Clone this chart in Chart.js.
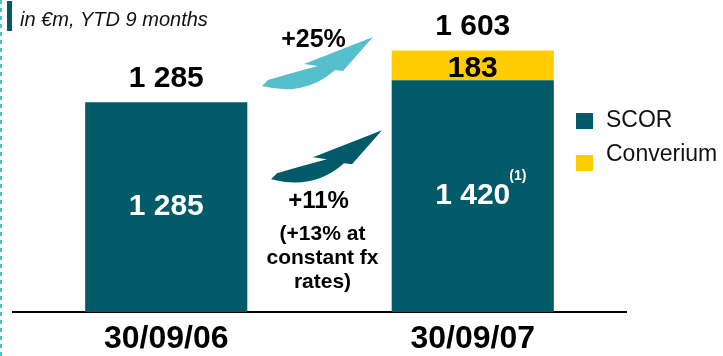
<!DOCTYPE html>
<html>
<head>
<meta charset="utf-8">
<script src="https://cdn.jsdelivr.net/npm/chart.js@4.4.1/dist/chart.umd.min.js"></script>
<style>
  html, body { margin: 0; padding: 0; background: #ffffff; }
  #wrap { width: 723px; height: 356px; position: relative; }
</style>
</head>
<body>
<div id="wrap"><canvas id="c" width="723" height="356"></canvas></div>
<script>
// ---- data ----
const categories = ['30/09/06', '30/09/07'];
const seriesNames = ['SCOR', 'Converium'];
const scorValues = [1285, 1420];
const converiumValues = [null, 183];
const subtitle = 'in €m, YTD 9 months';
const growthTotal = '+25%';
const growthScor = '+11%';
const growthNote = ['(+13% at', 'constant fx', 'rates)'];
const footnoteMark = '(1)';

const FONT = '"Liberation Sans", Arial, Helvetica, sans-serif';
const TEAL = '#005A67';
const YELLOW = '#FFCC00';
const LIGHT = '#55BFCD';

function fmt(n) {
  return String(n).replace(/\B(?=(\d{3})+(?!\d))/g, ' ');
}

// curved arrow outline, relative to its tip
const arrowShape = {
  tip: [0, 0],
  leftBarb: [-69, 27],
  topJoin: [-55, 29],
  topCtrl: [-78, 35],
  tailTop: [-105, 43],
  tailBottom: [-111, 49],
  bottomCtrl: [-68, 60],
  bottomJoin: [-38, 33],
  rightBarb: [-30, 34]
};

function drawArrow(ctx, tx, ty, color) {
  const p = (k) => [tx + arrowShape[k][0], ty + arrowShape[k][1]];
  ctx.save();
  ctx.fillStyle = color;
  ctx.beginPath();
  let a = p('tip'); ctx.moveTo(a[0], a[1]);
  a = p('leftBarb'); ctx.lineTo(a[0], a[1]);
  a = p('topJoin'); ctx.lineTo(a[0], a[1]);
  let c = p('topCtrl'), b = p('tailTop');
  ctx.quadraticCurveTo(c[0], c[1], b[0], b[1]);
  a = p('tailBottom'); ctx.lineTo(a[0], a[1]);
  c = p('bottomCtrl'); b = p('bottomJoin');
  ctx.quadraticCurveTo(c[0], c[1], b[0], b[1]);
  a = p('rightBarb'); ctx.lineTo(a[0], a[1]);
  ctx.closePath();
  ctx.fill();
  ctx.restore();
}

const decorPlugin = {
  id: 'decor',
  afterDraw(chart) {
    const ctx = chart.ctx;
    const xs = chart.scales.x;
    ctx.save();
    // left dashed rule
    ctx.strokeStyle = '#45C1D1';
    ctx.lineWidth = 2;
    ctx.setLineDash([4, 4]);
    ctx.beginPath(); ctx.moveTo(1, 0); ctx.lineTo(1, chart.height); ctx.stroke();
    ctx.setLineDash([]);
    // subtitle marker + text
    ctx.fillStyle = TEAL;
    ctx.fillRect(7, 1, 5, 30);
    ctx.fillStyle = '#111';
    ctx.font = 'italic 20px ' + FONT;
    ctx.textAlign = 'left'; ctx.textBaseline = 'alphabetic';
    ctx.fillText(subtitle, 20, 26);

    const m0 = chart.getDatasetMeta(0), m1 = chart.getDatasetMeta(1);
    ctx.textAlign = 'center'; ctx.textBaseline = 'middle';
    for (let i = 0; i < categories.length; i++) {
      const bs = m0.data[i];
      ctx.font = 'bold 30px ' + FONT;
      ctx.fillStyle = '#fff';
      const s = fmt(scorValues[i]);
      ctx.fillText(s, bs.x, (bs.y + bs.base) / 2);
      if (i === 1) {
        const w = ctx.measureText(s).width;
        ctx.font = 'bold 14px ' + FONT;
        ctx.textAlign = 'left';
        ctx.fillText(footnoteMark, bs.x + w / 2 - 1, (bs.y + bs.base) / 2 - 20);
        ctx.textAlign = 'center';
      }
      let top = bs.y;
      let total = scorValues[i];
      if (converiumValues[i] != null) {
        const bc = m1.data[i];
        ctx.font = 'bold 30px ' + FONT;
        ctx.fillStyle = '#000';
        ctx.fillText(fmt(converiumValues[i]), bc.x, (bc.y + bc.base) / 2 + 3);
        top = bc.y;
        total += converiumValues[i];
      }
      ctx.font = 'bold 30px ' + FONT;
      ctx.fillStyle = '#000';
      ctx.fillText(fmt(total), bs.x, top - 24);
    }

    // arrows + growth text
    const mid = (xs.getPixelForValue(0) + xs.getPixelForValue(1)) / 2;
    const top1 = m1.data[1].y;
    const scorTop1 = m0.data[1].y;
    drawArrow(ctx, mid + 53.5, top1 - 13.5, LIGHT);
    drawArrow(ctx, mid + 62.5, scorTop1 + 50, TEAL);
    ctx.fillStyle = '#000';
    ctx.font = 'bold 25px ' + FONT;
    ctx.fillText(growthTotal, mid - 6, 40);
    ctx.font = 'bold 24px ' + FONT;
    ctx.fillText(growthScor, mid - 1, 201);
    ctx.font = 'bold 21px ' + FONT;
    growthNote.forEach((t, k) => ctx.fillText(t, mid + 3, 234 + k * 24));

    // legend
    const leg = [
      { box: 113, text: 121 },
      { box: 155, text: 155 }
    ];
    chart.data.datasets.forEach((ds, k) => {
      ctx.fillStyle = ds.backgroundColor;
      ctx.fillRect(576, leg[k].box, 17, 16);
      ctx.fillStyle = '#111';
      ctx.font = '23px ' + FONT;
      ctx.textAlign = 'left'; ctx.textBaseline = 'middle';
      ctx.fillText(ds.label, 606, leg[k].text);
    });
    ctx.restore();
  }
};

new Chart(document.getElementById('c'), {
  type: 'bar',
  data: {
    labels: categories,
    datasets: [
      { label: seriesNames[0], data: scorValues, backgroundColor: TEAL,
        barPercentage: 1, categoryPercentage: 0.529 },
      { label: seriesNames[1], data: converiumValues, backgroundColor: YELLOW,
        barPercentage: 1, categoryPercentage: 0.529 }
    ]
  },
  options: {
    responsive: false,
    animation: false,
    devicePixelRatio: 1,
    layout: { padding: { left: 13, right: 97, top: 2, bottom: 0 } },
    plugins: { legend: { display: false }, tooltip: { enabled: false } },
    scales: {
      x: {
        stacked: true,
        grid: { display: false, drawTicks: false },
        border: { display: true, color: '#000', width: 2 },
        ticks: { color: '#000', padding: 8,
                 font: { family: FONT, size: 32, weight: 'bold' } },
        afterFit(scale) { scale.height = 44; }
      },
      y: { stacked: true, display: false, min: 0, max: 1900 }
    }
  },
  plugins: [decorPlugin]
});
</script>
</body>
</html>
